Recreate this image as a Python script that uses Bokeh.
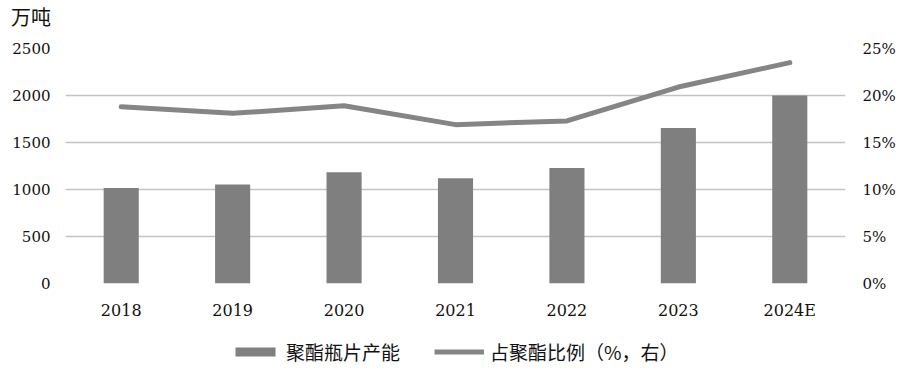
from bokeh.plotting import figure
from bokeh.layouts import column
from bokeh.models import (Range1d, LinearAxis, FactorRange, Legend, LegendItem, PrintfTickFormatter,
                          FixedTicker, Div, ColumnDataSource)
from bokeh.embed import file_html
from bokeh.resources import INLINE

years = ["2018", "2019", "2020", "2021", "2022", "2023", "2024E"]
capacity = [1017, 1052, 1183, 1120, 1228, 1655, 2000]   # 万吨
share_pct = [18.8, 18.1, 18.9, 16.9, 17.3, 20.9, 23.5]   # %
left_ticks = [0, 500, 1000, 1500, 2000, 2500]
right_ticks = [0, 5, 10, 15, 20, 25]
unit_label = "万吨"
bar_label = "聚酯瓶片产能"
line_label = "占聚酯比例（%，右）"

src = ColumnDataSource(dict(x=years, cap=capacity, pct=share_pct))

SERIF = "DejaVu Serif"
CJK = "Noto Sans CJK SC"
BAR_C = "#7f7f7f"
LINE_C = "#858585"
ML, FW, MR = 65, 780, 47
W = ML + FW + MR

# top strip with the unit
top = Div(text=('<div style="padding:7px 0 0 11px;margin:0;font-family:\'Noto Sans CJK SC\';'
                'font-size:20px;line-height:20px;color:#111111">' + unit_label + '</div>'),
          width=W, height=38, margin=0)

p = figure(x_range=FactorRange(*years), y_range=Range1d(0, 2500),
           frame_width=FW, frame_height=235, output_backend="svg", toolbar_location=None,
           min_border_left=ML, min_border_right=MR, min_border_top=10, min_border_bottom=50)
p.outline_line_color = None
p.x_range.range_padding = 0
p.extra_y_ranges = {"pct": Range1d(0, 25)}

p.vbar(x="x", top="cap", width=0.315, source=src, fill_color=BAR_C, line_color=None)
p.line(x="x", y="pct", source=src, y_range_name="pct", line_color=LINE_C, line_width=5,
       line_join="round", line_cap="round")

p.yaxis.ticker = FixedTicker(ticks=left_ticks)
ax_r = LinearAxis(y_range_name="pct", ticker=FixedTicker(ticks=right_ticks),
                  formatter=PrintfTickFormatter(format="%d%%"))
p.add_layout(ax_r, "right")

for ax in [p.yaxis[0], ax_r]:
    ax.axis_line_color = None
    ax.major_tick_line_color = None
    ax.minor_tick_line_color = None
    ax.major_label_text_font = SERIF
    ax.major_label_text_font_size = "15px"
    ax.major_label_text_color = "#111111"
p.yaxis[0].major_label_standoff = 9
ax_r.major_label_standoff = 11

p.xaxis.axis_line_color = None
p.xaxis.major_tick_line_color = None
p.xaxis.major_label_text_font = SERIF
p.xaxis.major_label_text_font_size = "16px"
p.xaxis.major_label_text_color = "#111111"
p.xaxis.major_label_standoff = 11

p.xgrid.grid_line_color = None
p.ygrid.ticker = FixedTicker(ticks=left_ticks)
p.ygrid.grid_line_color = "#c4c4c4"
p.ygrid.grid_line_width = 1.5

# legend strip (proxy renderers sit outside the visible range)
leg = figure(width=W, height=34, x_range=Range1d(0, 1), y_range=Range1d(0, 1),
             x_axis_type=None, y_axis_type=None, output_backend="svg", toolbar_location=None,
             min_border=0)
leg.outline_line_color = None
leg.grid.grid_line_color = None
r_bar = leg.vbar(x=[-5], top=[-5], width=0.1, fill_color=BAR_C, line_color=None)
r_line = leg.line(x=[-5, -4], y=[-5, -5], line_color=LINE_C, line_width=5)
legend = Legend(items=[LegendItem(label=bar_label, renderers=[r_bar]),
                       LegendItem(label=line_label, renderers=[r_line])],
                orientation="horizontal", location=(165, 2),
                glyph_width=50, glyph_height=11, label_standoff=6, spacing=34,
                label_text_font=CJK, label_text_font_size="19px", label_text_color="#111111",
                border_line_color=None, background_fill_alpha=0, padding=0, margin=0)
leg.add_layout(legend, "center")

layout = column(top, p, leg, spacing=0)
open("out.html", "w").write(file_html(layout, INLINE))
